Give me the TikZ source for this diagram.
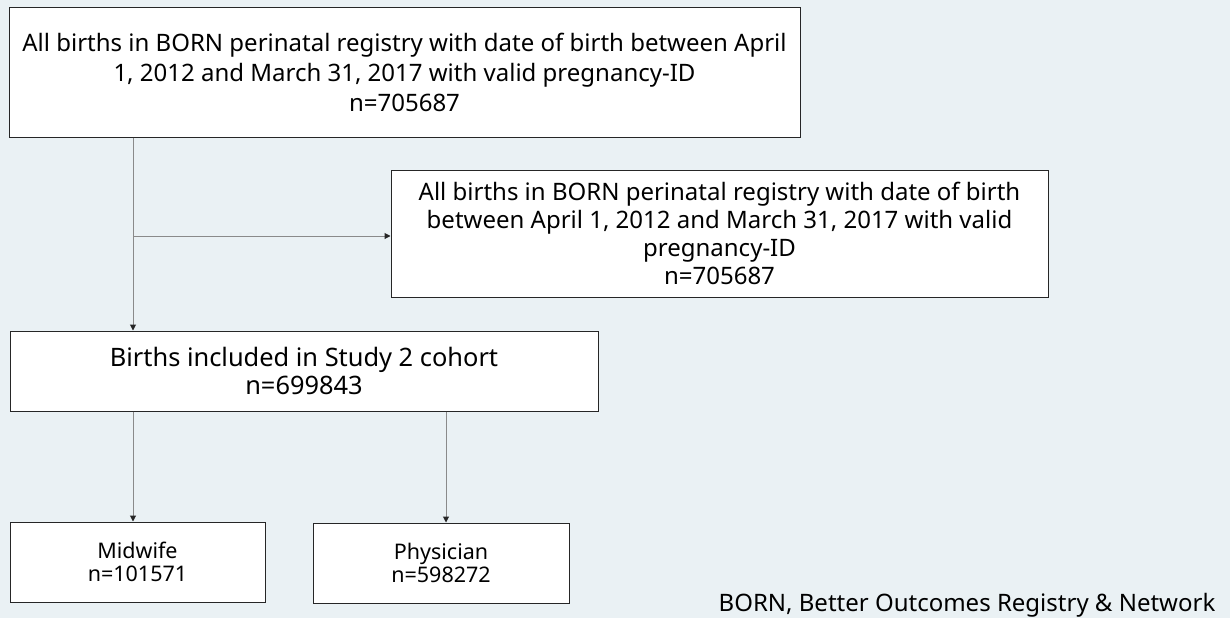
\documentclass[tikz,border=0pt]{standalone}
\usepackage{fontspec}
\setmainfont{Noto Sans}
\newfontfamily\widef{Noto Sans}
\usetikzlibrary{arrows.meta}
\definecolor{bgc}{HTML}{EAF1F4}
\definecolor{linec}{HTML}{8A8A8A}
\tikzset{
  box/.style={draw=black!85, line width=1pt, fill=white, align=center, inner sep=0pt},
  topbox/.style={box, font=\widef\fontsize{24}{30}\selectfont},
  rbox/.style={box, font=\widef\fontsize{24}{28}\selectfont},
  lowbox/.style={box, font=\widef\fontsize{25.4}{27.5}\selectfont},
  leafbox/.style={box, font=\widef\fontsize{21.5}{23.5}\selectfont},
  arr/.style={draw=linec, line width=1pt, -{Triangle[length=6pt,width=6pt,fill=black!85,color=black!85]}},
}
\begin{document}
\begin{tikzpicture}[x=1pt,y=-1pt]
\fill[bgc] (0,0) rectangle (1230,618);
\useasboundingbox (0,0) rectangle (1230,618);
\node[topbox, minimum width=791pt, minimum height=129pt] (all) at (404.5,72.5)
  {All births in BORN perinatal registry with date of birth between April\\1, 2012 and March 31, 2017 with valid pregnancy-ID\\n=705687};
\node[rbox, minimum width=657pt, minimum height=127pt] (excl) at (719.5,233.5)
  {All births in BORN perinatal registry with date of birth\\between April 1, 2012 and March 31, 2017 with valid\\pregnancy-ID\\n=705687};
\node[lowbox, minimum width=588pt, minimum height=80pt] (cohort) at (304,371)
  {Births included in Study 2 cohort\\n=699843};
\node[leafbox, minimum width=255pt, minimum height=80pt] (mid) at (137.5,562)
  {Midwife\\n=101571};
\node[leafbox, minimum width=256pt, minimum height=80pt] (phy) at (441,563)
  {Physician\\n=598272};
\node[font=\widef\fontsize{24}{26}\selectfont, anchor=base, inner sep=0pt] (foot) at (967,611)
  {BORN, Better Outcomes Registry \& Network};
\coordinate (br) at (133,236);
\coordinate (mx) at (133,470);
\coordinate (px) at (446,470);
\draw[arr] (all.south -| br) -- (cohort.north -| br);
\draw[arr] (br) -- (excl.west |- br);
\draw[arr] (cohort.south -| mx) -- (mid.north -| mx);
\draw[arr] (cohort.south -| px) -- (phy.north -| px);
\end{tikzpicture}
\end{document}
